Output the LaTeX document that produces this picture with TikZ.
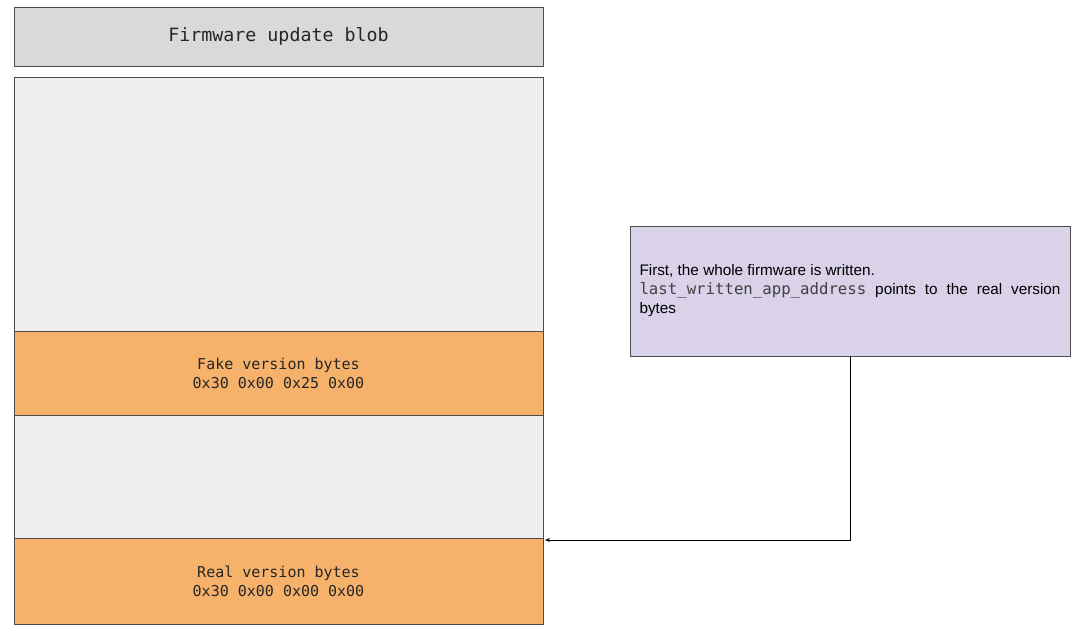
\documentclass[tikz,border=0pt]{standalone}
\usepackage{fontspec}
\setmainfont{Liberation Sans}
\setmonofont{DejaVu Sans Mono}
\usetikzlibrary{arrows.meta,positioning}

\definecolor{blobgrey}{HTML}{D9D9D9}
\definecolor{areagrey}{HTML}{EFEFEF}
\definecolor{verorange}{HTML}{F6B26B}
\definecolor{notelilac}{HTML}{D9D2E9}

\tikzset{
    region/.style={draw=black!70, line width=0.9pt, outer sep=0pt, inner sep=0pt,
                   minimum width=529pt, align=center, text=black!85,
                   font=\ttfamily\fontsize{15}{19}\selectfont},
    empty/.style={region, fill=areagrey},
    verbytes/.style={region, fill=verorange},
    notebox/.style={draw=black!70, line width=0.9pt, outer sep=0pt, fill=notelilac,
                    minimum width=440pt, minimum height=130pt, inner sep=0pt,
                    text width=421pt, align=justify,
                    font=\fontsize{15.3}{19}\selectfont}
}

\begin{document}
\begin{tikzpicture}[x=1pt, y=-1pt, node distance=0pt]
    \useasboundingbox (0,0) rectangle (1080,637);

    \node[region, fill=blobgrey, minimum height=59pt, anchor=north west,
          font=\ttfamily\fontsize{18.3}{22}\selectfont] (blob) at (14,7) {Firmware update blob};

    \node[empty, minimum height=254pt, anchor=north west] (upper) at (14,77) {};
    \node[verbytes, minimum height=84pt]  (fake)   [below=of upper]
        {Fake version bytes\\0x30 0x00 0x25 0x00};
    \node[empty, minimum height=123pt]    (middle) [below=of fake] {};
    \node[verbytes, minimum height=86pt]  (real)   [below=of middle]
        {Real version bytes\\0x30 0x00 0x00 0x00};

    \node[notebox, anchor=north west] (note) at (630,226)
        {First, the whole firmware is written.\\
         {\ttfamily\fontsize{15.7}{19}\selectfont\color{black!75}last\_written\_app\_address} points to the real version bytes};

    \draw[-{Stealth[length=5pt,width=4pt]}, line width=0.8pt]
        (note.south) |- ([xshift=2pt,yshift=-2pt]real.north east);
\end{tikzpicture}
\end{document}
